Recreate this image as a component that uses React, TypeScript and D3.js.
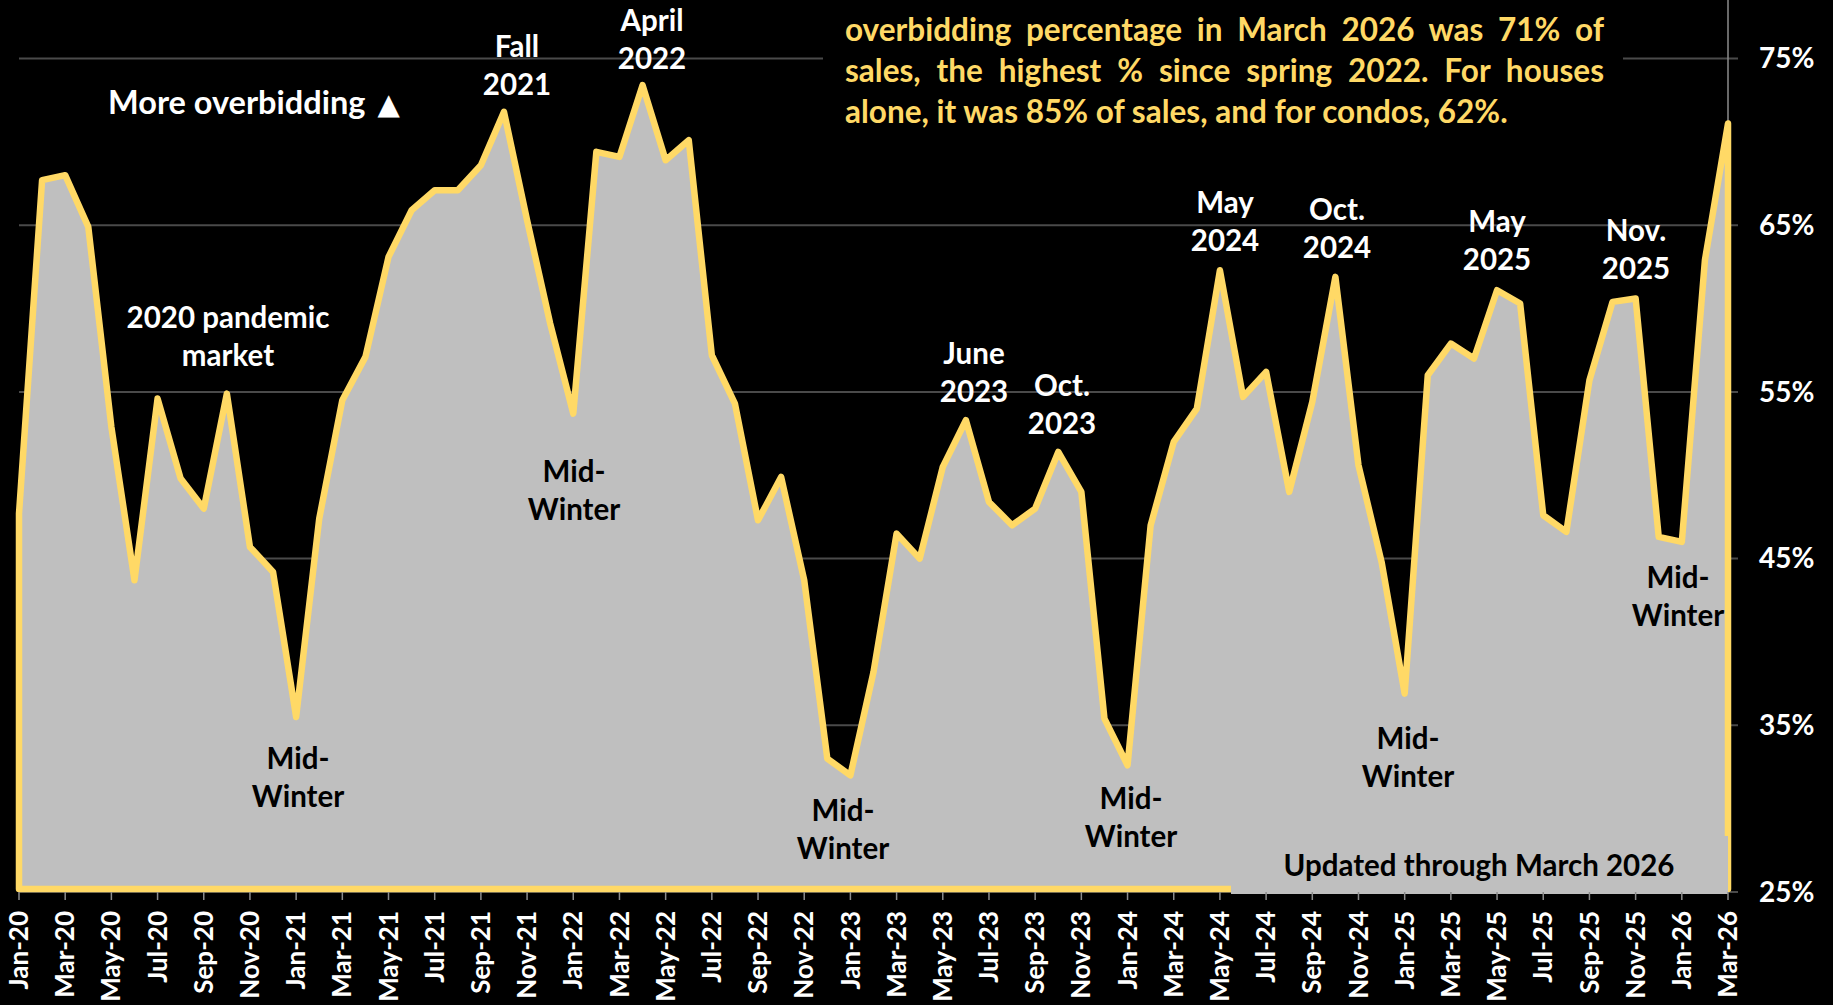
import React, { useEffect, useRef } from "react";
import * as d3 from "d3";

const MONTHS = [
  "Jan-20","Feb-20","Mar-20","Apr-20","May-20","Jun-20","Jul-20","Aug-20","Sep-20","Oct-20","Nov-20","Dec-20",
  "Jan-21","Feb-21","Mar-21","Apr-21","May-21","Jun-21","Jul-21","Aug-21","Sep-21","Oct-21","Nov-21","Dec-21",
  "Jan-22","Feb-22","Mar-22","Apr-22","May-22","Jun-22","Jul-22","Aug-22","Sep-22","Oct-22","Nov-22","Dec-22",
  "Jan-23","Feb-23","Mar-23","Apr-23","May-23","Jun-23","Jul-23","Aug-23","Sep-23","Oct-23","Nov-23","Dec-23",
  "Jan-24","Feb-24","Mar-24","Apr-24","May-24","Jun-24","Jul-24","Aug-24","Sep-24","Oct-24","Nov-24","Dec-24",
  "Jan-25","Feb-25","Mar-25","Apr-25","May-25","Jun-25","Jul-25","Aug-25","Sep-25","Oct-25","Nov-25","Dec-25",
  "Jan-26","Feb-26","Mar-26",
];

const OVERBID_PCT = [
  47.7, 67.7, 68.0, 64.9, 52.9, 43.7, 54.6, 49.8, 48.0, 54.9, 45.7, 44.2,
  35.5, 47.4, 54.5, 57.1, 63.1, 65.9, 67.1, 67.1, 68.6, 71.8, 65.3, 59.1,
  53.7, 69.4, 69.1, 73.4, 68.9, 70.1, 57.2, 54.3, 47.3, 49.9, 43.7, 33.0,
  32.0, 38.2, 46.5, 45.0, 50.5, 53.3, 48.4, 47.0, 48.0, 51.4, 49.0, 35.4,
  32.6, 47.0, 52.0, 54.0, 62.3, 54.7, 56.2, 49.0, 54.4, 61.9, 50.6, 44.8,
  36.9, 56.0, 57.9, 57.0, 61.1, 60.3, 47.6, 46.6, 55.7, 60.4, 60.6, 46.3,
  46.0, 62.9, 71.1,
];

const Y_TICKS = [25, 35, 45, 55, 65, 75];
const X_TICK_LABELS = MONTHS.filter((_, i) => i % 2 === 0);

const PEAK_NOTES = [
  ["2020 pandemic", "market"],
  ["Fall", "2021"],
  ["April", "2022"],
  ["June", "2023"],
  ["Oct.", "2023"],
  ["May", "2024"],
  ["Oct.", "2024"],
  ["May", "2025"],
  ["Nov.", "2025"],
];
const PEAK_POS = [
  [228, 318], [517, 47], [652, 21], [974, 354], [1062, 386],
  [1225, 203], [1337, 210], [1497, 222], [1636, 231],
];
const WINTER_NOTE = ["Mid-", "Winter"];
const WINTER_POS = [
  [298, 759], [574, 472], [843, 811], [1131, 799], [1408, 739], [1678, 578],
];
const HEADLINE = "More overbidding";
const HEADLINE_MARK = "\u25B2";
const UPDATED = "Updated through March 2026";
const PARAGRAPH = [
  "overbidding percentage in March 2026 was 71% of",
  "sales, the highest % since spring 2022. For houses",
  "alone, it was 85% of sales, and for condos, 62%.",
];

const W = 1833;
const H = 1005;
const FONT = "Lato, 'Open Sans', sans-serif";
const GOLD = "#FFD966";
const GRAY = "#BFBFBF";

export default function App() {
  const ref = useRef<SVGSVGElement | null>(null);

  useEffect(() => {
    const svg = d3.select(ref.current);
    svg.selectAll("*").remove();

    const x = d3.scaleLinear().domain([0, MONTHS.length - 1]).range([19, 1728]);
    const y = d3.scaleLinear().domain([25, 75]).range([892, 58.5]);
    const xRight = x.range()[1];

    // gridlines + right ticks
    svg.append("g")
      .selectAll("line")
      .data(Y_TICKS)
      .join("line")
      .attr("x1", x.range()[0])
      .attr("x2", xRight + 10)
      .attr("y1", (d) => y(d))
      .attr("y2", (d) => y(d))
      .attr("stroke", "#4a4a4a")
      .attr("stroke-width", 2);

    // right axis line
    svg.append("line")
      .attr("x1", xRight).attr("x2", xRight)
      .attr("y1", 0).attr("y2", y(25))
      .attr("stroke", "#8c8c8c").attr("stroke-width", 1.5);

    // y labels
    svg.append("g")
      .selectAll("text")
      .data(Y_TICKS)
      .join("text")
      .attr("x", xRight + 31)
      .attr("y", (d) => y(d))
      .attr("dy", "0.35em")
      .attr("fill", "#fff")
      .attr("font-family", FONT)
      .attr("font-weight", 700)
      .attr("font-size", 28)
      .text((d) => `${d}%`);

    // black box behind paragraph
    svg.append("rect")
      .attr("x", 823).attr("y", -10).attr("width", 800).attr("height", 150)
      .attr("fill", "#000");

    // area
    const area = d3.area<number>()
      .x((_, i) => x(i))
      .y0(y(25) - 3)
      .y1((d) => y(d));
    svg.append("path")
      .datum(OVERBID_PCT)
      .attr("d", area)
      .attr("fill", GRAY)
      .attr("stroke", GOLD)
      .attr("stroke-width", 6.5)
      .attr("stroke-linejoin", "round");

    // updated box
    svg.append("rect")
      .attr("x", 1231).attr("y", 836).attr("width", xRight - 1231).attr("height", 58)
      .attr("fill", GRAY);
    svg.append("text")
      .attr("x", 1479).attr("y", 866).attr("dy", "0.35em")
      .attr("text-anchor", "middle")
      .attr("fill", "#000")
      .attr("font-family", FONT).attr("font-weight", 700).attr("font-size", 29.5)
      .text(UPDATED);

    // x ticks & labels
    const tickIdx = MONTHS.map((_, i) => i).filter((i) => i % 2 === 0);
    svg.append("g")
      .selectAll("line")
      .data(tickIdx)
      .join("line")
      .attr("x1", (i) => x(i)).attr("x2", (i) => x(i))
      .attr("y1", 892).attr("y2", 900)
      .attr("stroke", "#8c8c8c").attr("stroke-width", 1.5);
    svg.append("g")
      .selectAll("text")
      .data(X_TICK_LABELS)
      .join("text")
      .attr("transform", (_, k) => `translate(${x(tickIdx[k])},911) rotate(-90)`)
      .attr("text-anchor", "end")
      .attr("dy", "0.35em")
      .attr("fill", "#fff")
      .attr("font-family", FONT).attr("font-weight", 700).attr("font-size", 26)
      .text((d) => d);

    // annotations
    const note = (lines: string[], cx: number, cy: number, color: string) => {
      lines.forEach((ln, k) => {
        svg.append("text")
          .attr("x", cx).attr("y", cy + k * 37.5).attr("dy", "0.35em")
          .attr("text-anchor", "middle")
          .attr("fill", color)
          .attr("font-family", FONT).attr("font-weight", 700).attr("font-size", 29.5)
          .text(ln);
      });
    };
    // headline
    const hl = svg.append("text")
      .attr("x", 108).attr("y", 103).attr("dy", "0.35em")
      .attr("fill", "#fff")
      .attr("font-family", FONT).attr("font-weight", 700).attr("font-size", 32.5);
    hl.append("tspan").text(HEADLINE);
    hl.append("tspan").attr("dx", 12).attr("font-family", "'DejaVu Sans', sans-serif").attr("font-size", 29).text(HEADLINE_MARK);

    PEAK_NOTES.forEach((ls, k) => note(ls, PEAK_POS[k][0], PEAK_POS[k][1], "#fff"));
    WINTER_POS.forEach((p) => note(WINTER_NOTE, p[0], p[1], "#000"));

    // paragraph (justified)
    PARAGRAPH.forEach((ln, k) => {
      const t = svg.append("text")
        .attr("x", 845).attr("y", 41 + k * 41)
        .attr("fill", GOLD)
        .attr("font-family", FONT).attr("font-weight", 700).attr("font-size", 31.5)
        .text(ln);
      if (k < PARAGRAPH.length - 1) {
        const node = t.node() as SVGTextElement;
        const nat = node.getComputedTextLength();
        const spaces = ln.split(" ").length - 1;
        const ws = (759 - nat) / spaces;
        t.attr("word-spacing", ws);
      }
    });
  }, []);

  return (
    <div style={{ position: "absolute", left: 0, top: 0, width: W, height: H, background: "#000" }}>
      <svg ref={ref} width={W} height={H} style={{ display: "block", background: "#000" }} />
    </div>
  );
}
